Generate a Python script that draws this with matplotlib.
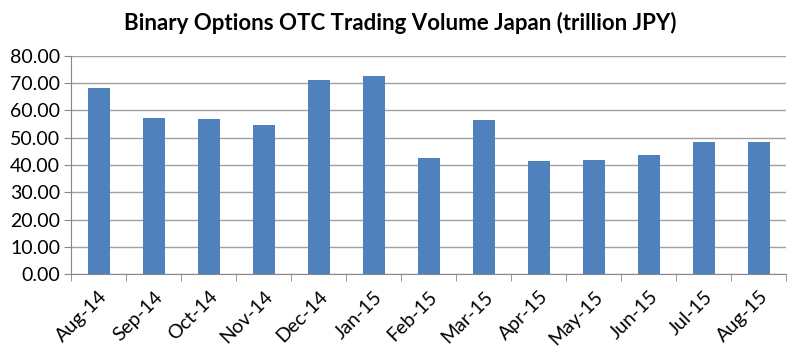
import matplotlib
matplotlib.use("Agg")
import matplotlib.pyplot as plt
import numpy as np

months = ["Aug-14", "Sep-14", "Oct-14", "Nov-14", "Dec-14", "Jan-15", "Feb-15",
          "Mar-15", "Apr-15", "May-15", "Jun-15", "Jul-15", "Aug-15"]
volume = [68.4, 57.3, 56.9, 54.7, 71.2, 72.8, 42.5, 56.4, 41.5, 41.9, 43.8, 48.5, 48.5]
y_ticks = [0, 10, 20, 30, 40, 50, 60, 70, 80]

plt.rcParams["font.family"] = ["Lato", "DejaVu Sans"]

fig = plt.figure(figsize=(8, 3.56), dpi=100)
ax = fig.add_axes([0.089, 0.230, 0.894, 0.613])

x = np.arange(len(months))
ax.bar(x, volume, width=0.4, color="#4f81bd", zorder=3)

ax.set_xlim(-0.5, len(months) - 0.5)
ax.set_ylim(0, 80)
ax.set_yticks(y_ticks)
ax.set_yticklabels([f"{v:.2f}" for v in y_ticks], fontsize=14)
ax.set_xticks(x)
ax.set_xticklabels(months, rotation=45, ha="right", rotation_mode="anchor", fontsize=14)
ax.set_xticks(np.arange(len(months) + 1) - 0.5, minor=True)
ax.tick_params(axis="x", which="major", length=0, pad=10)
ax.tick_params(axis="x", which="minor", length=5, color="#888888")
ax.tick_params(axis="y", length=5, color="#888888", pad=3)

ax.grid(axis="y", color="#a0a0a0", linewidth=1, zorder=0)
for side in ["top", "right"]:
    ax.spines[side].set_visible(False)
ax.spines["left"].set_color("#888888")
ax.spines["bottom"].set_color("#888888")

fig.text(0.5, 0.935, "Binary Options OTC Trading Volume Japan (trillion JPY)",
         ha="center", va="center", fontsize=16, fontweight="bold")

fig.savefig("out.png", dpi=100)
